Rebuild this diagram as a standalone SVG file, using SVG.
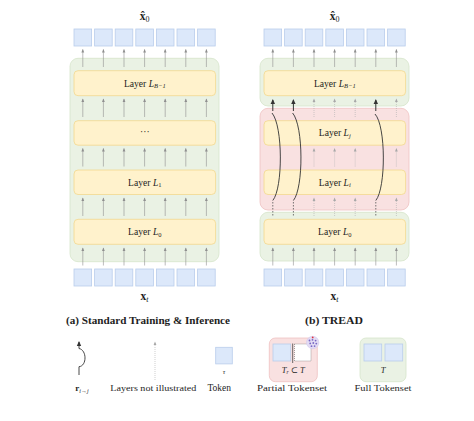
<svg xmlns="http://www.w3.org/2000/svg" width="474" height="421" viewBox="0 0 474 421">
<defs>
<style>
.tok{fill:#dce8fa;stroke:#b9cdeb;stroke-width:0.8}
.lay{fill:#fff2cc;stroke:#f2d88e;stroke-width:0.8}
.grn{fill:#eaf2e4;stroke:#d5e4ca;stroke-width:0.8}
.pnk{fill:#f9e1e1;stroke:#efc2c2;stroke-width:0.8}
.t{font-family:"Liberation Serif","DejaVu Serif",serif;fill:#1e1e1e}
.lt{font-size:9.6px;text-anchor:middle}
.ar{stroke:#8f8f8f;stroke-width:0.6;fill:none;marker-end:url(#ah)}
.dt{stroke:#b0b0b0;stroke-width:0.6;fill:none;stroke-dasharray:1 1;marker-end:url(#ahd)}
.bd{stroke:#333;stroke-width:1;fill:none;marker-end:url(#ahb)}
.cv{stroke:#333;stroke-width:0.9;fill:none}
.ds{stroke:#555;stroke-width:0.8;fill:none;stroke-dasharray:1.5 1.5}
</style>
<marker id="ah" markerWidth="6" markerHeight="6" refX="3" refY="3" orient="auto" markerUnits="userSpaceOnUse"><path d="M0,1.6 L3.5,3 L0,4.4 Z" fill="#8f8f8f"/></marker>
<marker id="ahd" markerWidth="6" markerHeight="6" refX="3" refY="3" orient="auto" markerUnits="userSpaceOnUse"><path d="M0,1.6 L3.5,3 L0,4.4 Z" fill="#a8a8a8"/></marker>
<marker id="ahb" markerWidth="8" markerHeight="8" refX="4" refY="4" orient="auto" markerUnits="userSpaceOnUse"><path d="M0,1.8 L5,4 L0,6.2 Z" fill="#333"/></marker>
</defs>
<rect width="474" height="421" fill="#fff"/>

<!-- Left panel -->
<g id="left-backbone"><rect class="grn" x="70" y="58.3" width="149" height="203.4" rx="8"/></g>
<g id="left-out-tokens">
<rect class="tok" x="74" y="29" width="17.6" height="17"/><rect class="tok" x="94.6" y="29" width="17.6" height="17"/><rect class="tok" x="115.2" y="29" width="17.6" height="17"/><rect class="tok" x="135.8" y="29" width="17.6" height="17"/><rect class="tok" x="156.4" y="29" width="17.6" height="17"/><rect class="tok" x="177" y="29" width="17.6" height="17"/><rect class="tok" x="197.6" y="29" width="17.6" height="17"/>
<text class="t" x="144.6" y="20" font-size="11.5" font-weight="bold" text-anchor="middle">x̂<tspan font-weight="normal" font-size="8" dy="2">0</tspan></text>
</g>
<g id="left-layer-B1"><rect class="lay" x="74" y="70.7" width="141.6" height="25" rx="4"/><text class="t lt" x="144.8" y="86.5">Layer <tspan font-style="italic">L</tspan><tspan font-style="italic" font-size="6.5" dy="1.5">B−1</tspan></text></g>
<g id="left-layer-dots"><rect class="lay" x="74" y="120.7" width="141.6" height="24.5" rx="4"/><text class="t lt" x="144.8" y="135">···</text></g>
<g id="left-layer-1"><rect class="lay" x="74" y="170" width="141.6" height="24.5" rx="4"/><text class="t lt" x="144.8" y="185.5">Layer <tspan font-style="italic">L</tspan><tspan font-size="6.5" dy="1.5">1</tspan></text></g>
<g id="left-layer-0"><rect class="lay" x="74" y="219.3" width="141.6" height="25" rx="4"/><text class="t lt" x="144.8" y="235">Layer <tspan font-style="italic">L</tspan><tspan font-size="6.5" dy="1.5">0</tspan></text></g>
<g id="left-in-tokens">
<rect class="tok" x="74" y="269" width="17.6" height="17"/><rect class="tok" x="94.6" y="269" width="17.6" height="17"/><rect class="tok" x="115.2" y="269" width="17.6" height="17"/><rect class="tok" x="135.8" y="269" width="17.6" height="17"/><rect class="tok" x="156.4" y="269" width="17.6" height="17"/><rect class="tok" x="177" y="269" width="17.6" height="17"/><rect class="tok" x="197.6" y="269" width="17.6" height="17"/>
<text class="t" x="144.6" y="300" font-size="11.5" font-weight="bold" text-anchor="middle">x<tspan font-weight="normal" font-style="italic" font-size="8" dy="2">t</tspan></text>
</g>

<!-- Right panel -->
<g id="right-top-set"><rect class="grn" x="260" y="58.3" width="149" height="47.7" rx="8"/></g>
<g id="right-partial-set"><rect class="pnk" x="260" y="108.3" width="149" height="101.7" rx="8"/></g>
<g id="right-bottom-set"><rect class="grn" x="260" y="212.3" width="149" height="48.7" rx="8"/></g>
<g id="right-out-tokens">
<rect class="tok" x="264" y="29" width="17.6" height="17"/><rect class="tok" x="284.6" y="29" width="17.6" height="17"/><rect class="tok" x="305.2" y="29" width="17.6" height="17"/><rect class="tok" x="325.8" y="29" width="17.6" height="17"/><rect class="tok" x="346.4" y="29" width="17.6" height="17"/><rect class="tok" x="367" y="29" width="17.6" height="17"/><rect class="tok" x="387.6" y="29" width="17.6" height="17"/>
<text class="t" x="334.6" y="20" font-size="11.5" font-weight="bold" text-anchor="middle">x̂<tspan font-weight="normal" font-size="8" dy="2">0</tspan></text>
</g>
<g id="right-layer-B1"><rect class="lay" x="264" y="70.7" width="141.6" height="25" rx="4"/><text class="t lt" x="334.8" y="86.5">Layer <tspan font-style="italic">L</tspan><tspan font-style="italic" font-size="6.5" dy="1.5">B−1</tspan></text></g>
<g id="right-layer-j"><rect class="lay" x="264" y="120.7" width="141.6" height="24.5" rx="4"/><text class="t lt" x="334.8" y="136">Layer <tspan font-style="italic">L</tspan><tspan font-style="italic" font-size="6.5" dy="1.5">j</tspan></text></g>
<g id="right-layer-i"><rect class="lay" x="264" y="170" width="141.6" height="24.5" rx="4"/><text class="t lt" x="334.8" y="185.5">Layer <tspan font-style="italic">L</tspan><tspan font-style="italic" font-size="6.5" dy="1.5">i</tspan></text></g>
<g id="right-layer-0"><rect class="lay" x="264" y="219.3" width="141.6" height="25" rx="4"/><text class="t lt" x="334.8" y="235">Layer <tspan font-style="italic">L</tspan><tspan font-size="6.5" dy="1.5">0</tspan></text></g>
<g id="right-in-tokens">
<rect class="tok" x="264" y="269" width="17.6" height="17"/><rect class="tok" x="284.6" y="269" width="17.6" height="17"/><rect class="tok" x="305.2" y="269" width="17.6" height="17"/><rect class="tok" x="325.8" y="269" width="17.6" height="17"/><rect class="tok" x="346.4" y="269" width="17.6" height="17"/><rect class="tok" x="367" y="269" width="17.6" height="17"/><rect class="tok" x="387.6" y="269" width="17.6" height="17"/>
<text class="t" x="334.6" y="300" font-size="11.5" font-weight="bold" text-anchor="middle">x<tspan font-weight="normal" font-style="italic" font-size="8" dy="2">t</tspan></text>
</g>

<g id="connectors">
<!-- left -->
<path class="ar" d="M82.8,67V49.5"/><path class="ar" d="M103.4,67V49.5"/><path class="ar" d="M124,67V49.5"/><path class="ar" d="M144.6,67V49.5"/><path class="ar" d="M165.2,67V49.5"/><path class="ar" d="M185.8,67V49.5"/><path class="ar" d="M206.4,67V49.5"/>
<path class="ar" d="M82.8,117V99"/><path class="ar" d="M103.4,117V99"/><path class="ar" d="M124,117V99"/><path class="ar" d="M144.6,117V99"/><path class="ar" d="M165.2,117V99"/><path class="ar" d="M185.8,117V99"/><path class="ar" d="M206.4,117V99"/>
<path class="ar" d="M82.8,166.5V148.5"/><path class="ar" d="M103.4,166.5V148.5"/><path class="ar" d="M124,166.5V148.5"/><path class="ar" d="M144.6,166.5V148.5"/><path class="ar" d="M165.2,166.5V148.5"/><path class="ar" d="M185.8,166.5V148.5"/><path class="ar" d="M206.4,166.5V148.5"/>
<path class="ar" d="M82.8,216V198"/><path class="ar" d="M103.4,216V198"/><path class="ar" d="M124,216V198"/><path class="ar" d="M144.6,216V198"/><path class="ar" d="M165.2,216V198"/><path class="ar" d="M185.8,216V198"/><path class="ar" d="M206.4,216V198"/>
<path class="ar" d="M82.8,265.5V248"/><path class="ar" d="M103.4,265.5V248"/><path class="ar" d="M124,265.5V248"/><path class="ar" d="M144.6,265.5V248"/><path class="ar" d="M165.2,265.5V248"/><path class="ar" d="M185.8,265.5V248"/><path class="ar" d="M206.4,265.5V248"/>
<!-- right -->
<path class="ar" d="M272.8,67V49.5"/><path class="ar" d="M293.4,67V49.5"/><path class="ar" d="M314,67V49.5"/><path class="ar" d="M334.6,67V49.5"/><path class="ar" d="M355.2,67V49.5"/><path class="ar" d="M375.8,67V49.5"/><path class="ar" d="M396.4,67V49.5"/>
<path class="bd" d="M272.8,111V100"/><path class="bd" d="M293.4,111V100"/><path class="bd" d="M375.8,111V100"/>
<path class="dt" d="M314,117V99"/><path class="dt" d="M334.6,117V99"/><path class="dt" d="M355.2,117V99"/><path class="dt" d="M396.4,117V99"/>
<path class="dt" d="M314,166.5V148.5"/><path class="dt" d="M334.6,166.5V148.5"/><path class="dt" d="M355.2,166.5V148.5"/><path class="dt" d="M396.4,166.5V148.5"/>
<path class="dt" d="M314,216V198"/><path class="dt" d="M334.6,216V198"/><path class="dt" d="M355.2,216V198"/><path class="dt" d="M396.4,216V198"/>
<path class="ds" d="M272.8,202V215.5M293.4,202V215.5M375.8,202V215.5"/>
<path class="cv" d="M272.8,200.5C283,188 283,126 272,113"/>
<path class="cv" d="M293.4,200.5C303.6,188 303.6,126 292.6,113"/>
<path class="cv" d="M375.8,200.5C386,188 386,126 375,114"/>
<path class="ar" d="M272.8,265.5V248"/><path class="ar" d="M293.4,265.5V248"/><path class="ar" d="M314,265.5V248"/><path class="ar" d="M334.6,265.5V248"/><path class="ar" d="M355.2,265.5V248"/><path class="ar" d="M375.8,265.5V248"/><path class="ar" d="M396.4,265.5V248"/>
</g>

<g id="captions">
<text class="t" x="148" y="323.8" font-size="9.5" font-weight="bold" text-anchor="middle" textLength="164" lengthAdjust="spacingAndGlyphs">(a) Standard Training &amp; Inference</text>
<text class="t" x="334" y="323.8" font-size="9.5" font-weight="bold" text-anchor="middle" textLength="58" lengthAdjust="spacingAndGlyphs">(b) TREAD</text>
</g>

<g id="legend-route">
<path class="cv" d="M79,375V366.7C87,366 87,350 79,348.5V342" marker-end="url(#ahb)"/>
<text class="t" x="82" y="391" font-size="9" text-anchor="middle"><tspan font-weight="bold">r</tspan><tspan font-style="italic" font-size="6" dy="1.5">i→j</tspan></text>
</g>
<g id="legend-not-illustrated">
<path class="dt" d="M155,380V342"/>
<text class="t" x="153.3" y="390.8" font-size="9" text-anchor="middle" textLength="86" lengthAdjust="spacingAndGlyphs">Layers not illustrated</text>
</g>
<g id="legend-token">
<rect class="tok" x="215.7" y="347.3" width="16.6" height="16.6"/>
<text class="t" x="224" y="373.5" font-size="7" font-style="italic" text-anchor="middle">τ</text>
<text class="t" x="219.2" y="390.8" font-size="9.5" text-anchor="middle">Token</text>
</g>
<g id="legend-partial">
<rect class="pnk" x="269.3" y="338" width="48" height="43.7" rx="6"/>
<rect class="tok" x="273" y="344" width="17.7" height="17"/>
<line x1="292.7" y1="343.5" x2="292.7" y2="363" stroke="#444" stroke-width="0.8"/>
<rect x="294.5" y="344" width="16.5" height="17" fill="#fff" stroke="#666" stroke-width="0.6" stroke-dasharray="1 1"/>
<circle cx="312.7" cy="342.5" r="6.2" fill="#e3dcf4" stroke="#cfc4ec" stroke-width="0.5"/>
<g fill="#7a68c4"><circle cx="309.5" cy="340.5" r="0.9"/><circle cx="312.5" cy="339.8" r="0.9"/><circle cx="315.6" cy="340.6" r="0.9"/><circle cx="310.2" cy="343.4" r="0.9"/><circle cx="313.3" cy="343" r="0.9"/><circle cx="316.3" cy="343.6" r="0.9"/><circle cx="311.5" cy="346.2" r="0.9"/><circle cx="314.6" cy="346.1" r="0.9"/></g>
<circle cx="312.7" cy="337.4" r="0.9" fill="#e0303a"/>
<text class="t" x="293.3" y="372.5" font-size="8.5" text-anchor="middle"><tspan font-style="italic">T</tspan><tspan font-style="italic" font-size="5.5" dy="1.5">r</tspan><tspan dy="-1.5"> ⊂ </tspan><tspan font-style="italic">T</tspan></text>
<text class="t" x="292" y="391" font-size="9" text-anchor="middle" textLength="70" lengthAdjust="spacingAndGlyphs">Partial Tokenset</text>
</g>
<g id="legend-full">
<rect class="grn" x="360" y="338" width="46" height="43.7" rx="6"/>
<rect class="tok" x="364" y="344" width="17.7" height="17"/>
<rect class="tok" x="385" y="344" width="17.7" height="17"/>
<text class="t" x="383" y="372.5" font-size="8.5" font-style="italic" text-anchor="middle">T</text>
<text class="t" x="383" y="391" font-size="9" text-anchor="middle" textLength="57" lengthAdjust="spacingAndGlyphs">Full Tokenset</text>
</g>
</svg>
